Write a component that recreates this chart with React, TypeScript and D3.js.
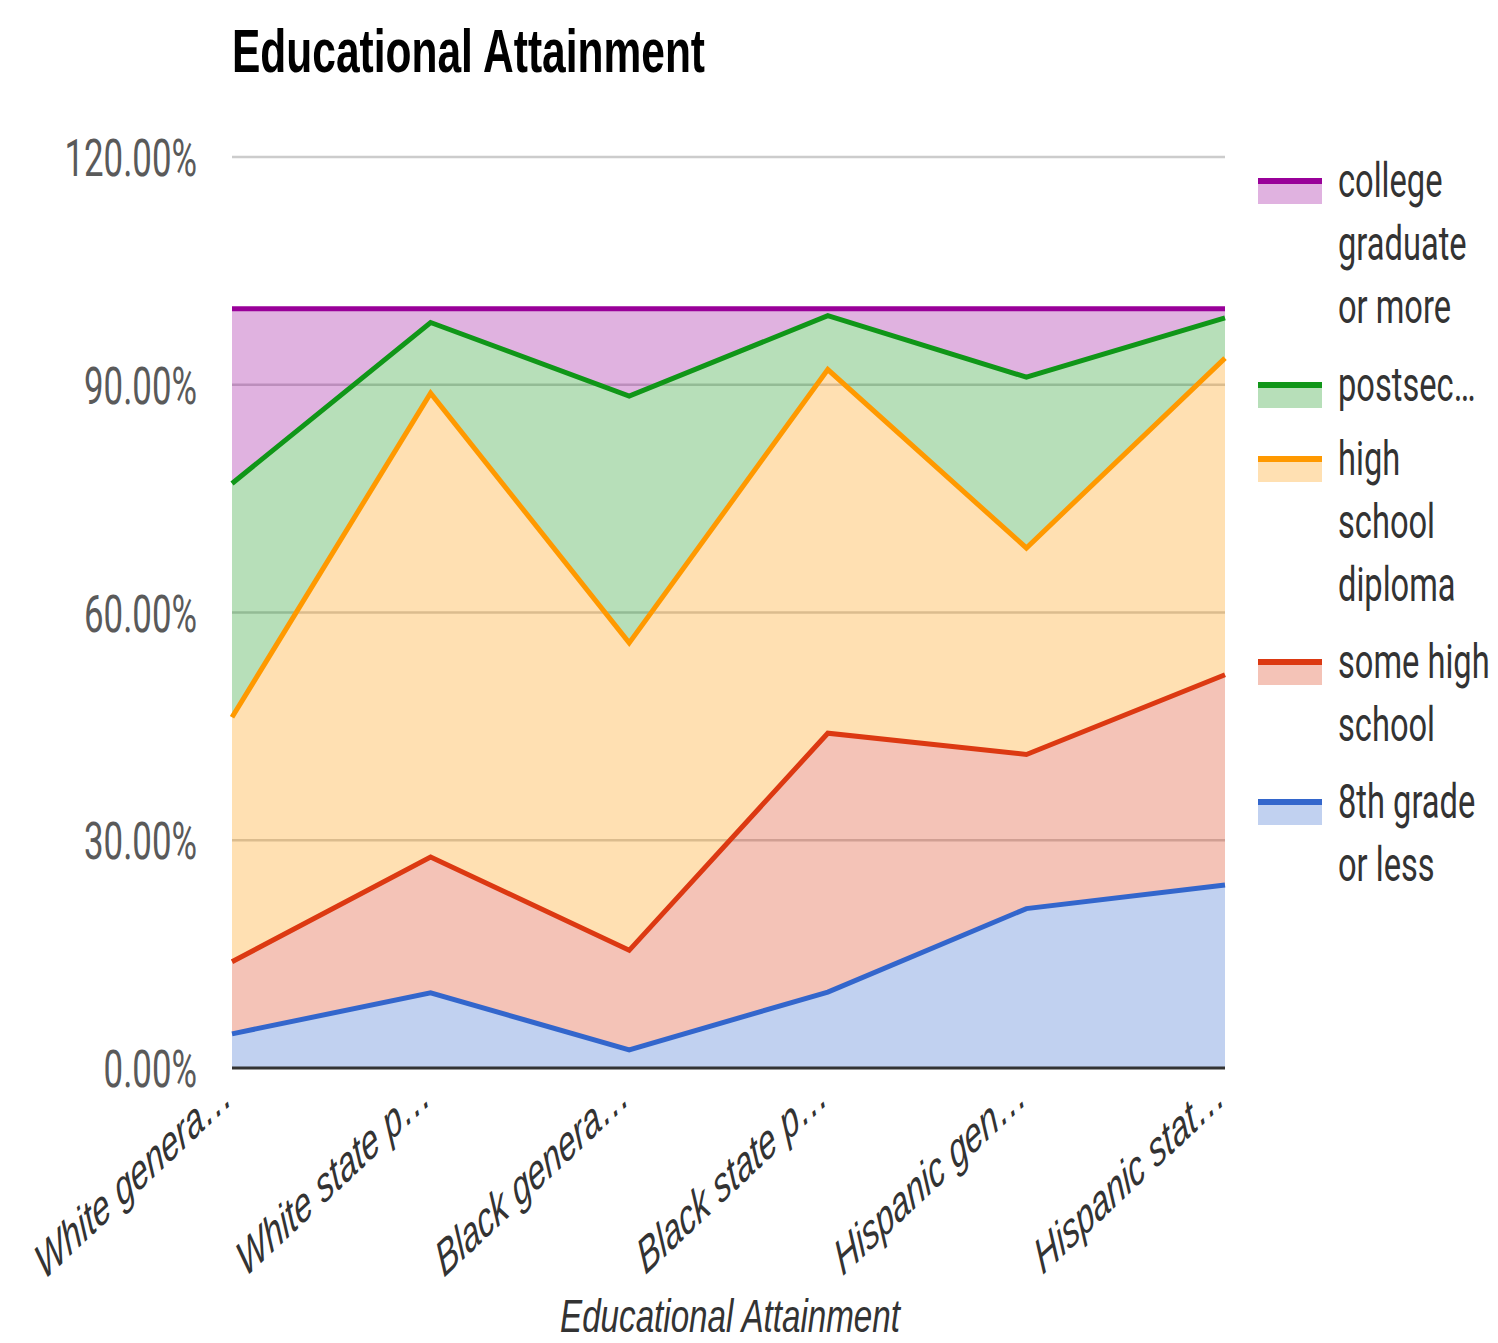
import * as d3 from "d3";
import React, {useEffect, useRef} from "react";

// category labels as shown (truncated by the original chart)
const categories = [
  "White genera…",
  "White state p…",
  "Black genera…",
  "Black state p…",
  "Hispanic gen…",
  "Hispanic stat…",
];

// share of each group, in percent
const eighthGrade = [4.5, 9.9, 2.4, 10.0, 21.0, 24.1];
const someHighSchool = [9.5, 17.9, 13.1, 34.1, 20.3, 27.7];
const highSchoolDiploma = [32.2, 61.1, 40.5, 47.9, 27.2, 41.7];
const postsecondary = [30.8, 9.3, 32.5, 7.1, 22.5, 5.3];
const collegeGraduate = [23.0, 1.8, 11.5, 0.9, 9.0, 1.2];

const yTicks = [0, 30, 60, 90, 120];

const seriesKeys = ["eighth", "someHigh", "highSchool", "postsec", "college"];
const seriesColors: Record<string, string> = {
  eighth: "#3366cc",
  someHigh: "#dc3912",
  highSchool: "#ff9900",
  postsec: "#109618",
  college: "#990099",
};

// legend, top to bottom
const legendItems = [
  {key: "college", lines: ["college", "graduate", "or more"]},
  {key: "postsec", lines: ["postsec…"]},
  {key: "highSchool", lines: ["high", "school", "diploma"]},
  {key: "someHigh", lines: ["some high", "school"]},
  {key: "eighth", lines: ["8th grade", "or less"]},
];

const App: React.FC = () => {
  const ref = useRef<SVGSVGElement | null>(null);

  useEffect(() => {
    const width = 1498;
    const height = 1343;
    const margin = {top: 157, right: 273, bottom: 275, left: 232};
    const svg = d3.select(ref.current);
    svg.selectAll("*").remove();
    svg.attr("width", width).attr("height", height);

    const rows = categories.map((c, i) => ({
      cat: c,
      eighth: eighthGrade[i],
      someHigh: someHighSchool[i],
      highSchool: highSchoolDiploma[i],
      postsec: postsecondary[i],
      college: collegeGraduate[i],
    }));

    const x = d3.scalePoint<string>()
      .domain(categories)
      .range([margin.left, width - margin.right]);

    const y = d3.scaleLinear()
      .domain([0, 120])
      .range([height - margin.bottom, margin.top]);

    const stacked = d3.stack<any>().keys(seriesKeys)(rows);

    // gridlines
    svg.append("g")
      .selectAll("line")
      .data(yTicks.filter((t) => t !== 0))
      .enter()
      .append("line")
      .attr("x1", margin.left)
      .attr("x2", width - margin.right)
      .attr("y1", (d) => y(d))
      .attr("y2", (d) => y(d))
      .attr("stroke", "#cccccc")
      .attr("stroke-width", 2.5);

    const area = d3.area<any>()
      .x((d) => x(d.data.cat) as number)
      .y0((d) => y(d[0]))
      .y1((d) => y(d[1]));

    const line = d3.line<any>()
      .x((d) => x(d.data.cat) as number)
      .y((d) => y(d[1]));

    svg.append("g")
      .selectAll("path")
      .data(stacked)
      .enter()
      .append("path")
      .attr("d", (d) => area(d) as string)
      .attr("fill", (d) => seriesColors[d.key])
      .attr("fill-opacity", 0.3);

    // baseline
    svg.append("line")
      .attr("x1", margin.left)
      .attr("x2", width - margin.right)
      .attr("y1", y(0))
      .attr("y2", y(0))
      .attr("stroke", "#333333")
      .attr("stroke-width", 3);

    svg.append("g")
      .selectAll("path")
      .data(stacked)
      .enter()
      .append("path")
      .attr("d", (d) => line(d) as string)
      .attr("fill", "none")
      .attr("stroke", (d) => seriesColors[d.key])
      .attr("stroke-width", 5)
      .attr("stroke-linejoin", "miter");

    // y tick labels (the original picture is squeezed horizontally)
    svg.append("g")
      .selectAll("text")
      .data(yTicks)
      .enter()
      .append("text")
      .attr("transform", (d) => `translate(197, ${y(d) + 19}) scale(0.67, 1)`)
      .attr("text-anchor", "end")
      .style("font-family", "Roboto, 'Noto Sans', sans-serif")
      .style("font-size", "52px")
      .attr("fill", "#5a5a5a")
      .text((d) => `${d.toFixed(2)}%`);

    // x labels, rotated
    svg.append("g")
      .selectAll("text")
      .data(categories)
      .enter()
      .append("text")
      .attr("transform", (d) => `translate(${(x(d) as number) + 2}, 1102) scale(0.64, 1) rotate(-31)`)
      .attr("text-anchor", "end")
      .style("font-family", "'Liberation Sans', Arial, sans-serif")
      .style("font-style", "italic")
      .style("font-size", "50px")
      .attr("fill", "#333")
      .text((d) => d);

    // title
    svg.append("text")
      .attr("x", 232)
      .attr("y", 72)
      .attr("textLength", 473)
      .attr("lengthAdjust", "spacingAndGlyphs")
      .style("font-family", "'Liberation Sans', Arial, sans-serif")
      .style("font-weight", "bold")
      .style("font-size", "62px")
      .attr("fill", "#000")
      .text("Educational Attainment");

    // x axis title
    svg.append("text")
      .attr("x", 560)
      .attr("y", 1332)
      .attr("textLength", 340)
      .attr("lengthAdjust", "spacingAndGlyphs")
      .style("font-family", "'Liberation Sans', Arial, sans-serif")
      .style("font-style", "italic")
      .style("font-size", "46px")
      .attr("fill", "#333")
      .text("Educational Attainment");

    // legend
    const legendTops = [181, 385, 459, 662, 802];
    const lineGap = 63;
    const legend = svg.append("g");
    legendItems.forEach((item, i) => {
      const cy = legendTops[i];
      const g = legend.append("g");
      g.append("rect")
        .attr("x", 1258)
        .attr("y", cy)
        .attr("width", 64)
        .attr("height", 23)
        .attr("fill", seriesColors[item.key])
        .attr("fill-opacity", 0.3);
      g.append("line")
        .attr("x1", 1258)
        .attr("x2", 1322)
        .attr("y1", cy)
        .attr("y2", cy)
        .attr("stroke", seriesColors[item.key])
        .attr("stroke-width", 6);
      item.lines.forEach((t, j) => {
        g.append("text")
          .attr("transform", `translate(1338, ${cy + 16 + j * lineGap}) scale(0.68, 1)`)
          .style("font-family", "Roboto, 'Noto Sans', sans-serif")
          .style("font-size", "48px")
          .attr("fill", "#333")
          .text(t);
      });
    });

    return () => {
      svg.selectAll("*").remove();
    };
  }, []);

  return (
    <svg
      ref={ref}
      style={{position: "absolute", left: 0, top: 0, display: "block", background: "#fff"}}
    />
  );
};

export default App;
